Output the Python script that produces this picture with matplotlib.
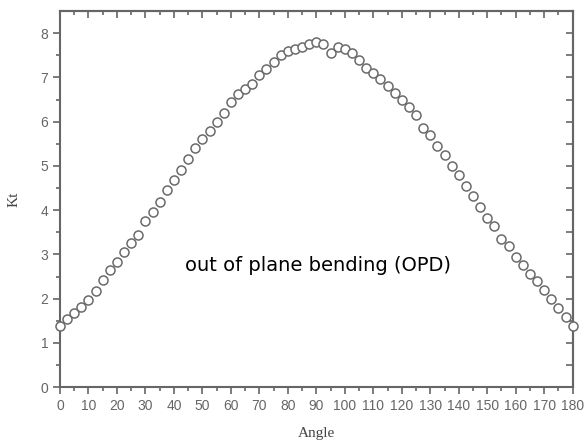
import matplotlib
matplotlib.use("Agg")
import matplotlib.pyplot as plt
import numpy as np

angle = [0, 2.5, 5, 7.5, 10, 12.5, 15, 17.5, 20, 22.5, 25, 27.5, 30, 32.5, 35, 37.5,
         40, 42.5, 45, 47.5, 50, 52.5, 55, 57.5, 60, 62.5, 65, 67.5, 70, 72.5, 75, 77.5,
         80, 82.5, 85, 87.5, 90, 92.5, 95, 97.5, 100, 102.5, 105, 107.5, 110, 112.5, 115,
         117.5, 120, 122.5, 125, 127.5, 130, 132.5, 135, 137.5, 140, 142.5, 145, 147.5,
         150, 152.5, 155, 157.5, 160, 162.5, 165, 167.5, 170, 172.5, 175, 177.5, 180]
kt = [1.38, 1.55, 1.68, 1.82, 1.98, 2.18, 2.42, 2.65, 2.82, 3.05, 3.25, 3.45, 3.75, 3.97,
      4.18, 4.45, 4.68, 4.90, 5.15, 5.40, 5.62, 5.80, 6.00, 6.20, 6.45, 6.62, 6.75, 6.85,
      7.05, 7.20, 7.35, 7.50, 7.60, 7.65, 7.68, 7.75, 7.80, 7.75, 7.55, 7.68, 7.64, 7.55,
      7.40, 7.22, 7.10, 6.96, 6.80, 6.66, 6.50, 6.34, 6.15, 5.85, 5.70, 5.45, 5.25, 5.00,
      4.80, 4.55, 4.32, 4.08, 3.82, 3.65, 3.35, 3.18, 2.95, 2.75, 2.55, 2.40, 2.20, 2.00,
      1.80, 1.58, 1.38]

xticks = list(range(0, 181, 10))
yticks = list(range(0, 9))
grey = "#666666"

fig = plt.figure(figsize=(5.88, 4.45), dpi=100)
ax = fig.add_axes([0.102, 0.130, 0.872, 0.845])
ax.plot(angle, kt, linestyle="none", marker="o", markersize=6.5,
        markerfacecolor="white", markeredgecolor="#6a6a6a", markeredgewidth=1.1,
        clip_on=False, zorder=3)

ax.set_xlim(0, 180)
ax.set_ylim(0, 8.5)
ax.set_xticks(xticks)
ax.set_yticks(yticks)
ax.set_xticks(np.arange(5, 180, 10), minor=True)
ax.set_yticks(np.arange(0.5, 8.5, 1), minor=True)
ax.tick_params(which="both", direction="out", colors=grey, labelsize=10, width=1.2)
ax.tick_params(which="major", length=5)
ax.tick_params(which="minor", length=3)
for lab in ax.get_xticklabels() + ax.get_yticklabels():
    lab.set_family("Liberation Sans")
for s in ax.spines.values():
    s.set_color(grey)
    s.set_linewidth(1.5)

top = ax.secondary_xaxis("top")
top.set_xticks(xticks)
top.set_xticks(np.arange(5, 180, 10), minor=True)
top.tick_params(which="both", direction="in", colors=grey, labeltop=False, width=1.2)
top.tick_params(which="major", length=5)
top.tick_params(which="minor", length=3)
top.spines["top"].set_color(grey)
top.spines["top"].set_linewidth(1.5)

right = ax.secondary_yaxis("right")
right.set_yticks(yticks)
right.set_yticks(np.arange(0.5, 8.5, 1), minor=True)
right.tick_params(which="both", direction="in", colors=grey, labelright=False,
                  width=1.2, length=5)
right.spines["right"].set_color(grey)
right.spines["right"].set_linewidth(1.5)

ax.set_xlabel("Angle", family="Liberation Serif", fontsize=11, color="#444444", labelpad=10)
ax.set_ylabel("Kt", family="Liberation Serif", fontsize=11, color="#444444", labelpad=14)

ax.text(44, 2.76, "out of plane bending (OPD)", fontsize=14, color="black",
        family="DejaVu Sans", ha="left", va="center")

fig.savefig("out.png", dpi=100)
